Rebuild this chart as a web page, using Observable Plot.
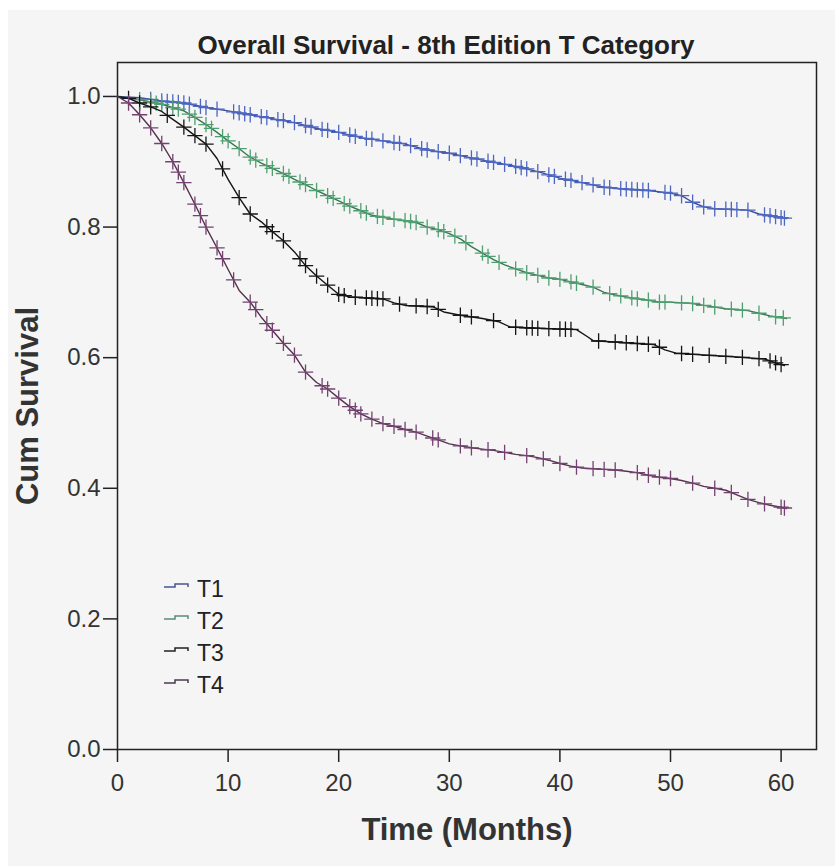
<!DOCTYPE html>
<html><head><meta charset="utf-8">
<script src="https://cdn.jsdelivr.net/npm/d3@7"></script>
<script src="https://cdn.jsdelivr.net/npm/@observablehq/plot@0.6"></script>
<style>
html,body{margin:0;padding:0;background:#fff;}
#bg{position:absolute;left:8px;top:10px;width:827px;height:856px;background:#f5f5f5;}
#chart{position:absolute;left:0;top:0;}
</style></head><body><div id="bg"></div><div id="chart"></div>
<script>
const chartTitle = "Overall Survival - 8th Edition T Category";
const xTitle = "Time (Months)";
const yTitle = "Cum Survival";
const categories = ["T1", "T2", "T3", "T4"];
const xTicks = [0, 10, 20, 30, 40, 50, 60];
const yTicks = [0, 0.2, 0.4, 0.6, 0.8, 1.0];
const lineColors = ["#3d4c92", "#3b7653", "#151515", "#57324f"];
const markColors = ["#4d66c2", "#4fa071", "#151515", "#744270"];
const legendColors = ["#4a5590", "#5a8a80", "#222222", "#4a3a50"];

// Survival curves (time in months, cumulative survival)
const t1Time = [0, 2, 4, 6, 8, 10, 12, 14, 16, 18, 20, 22, 24, 26, 28, 30, 32, 34, 36, 38, 40, 42, 44, 46, 48, 50, 51, 52, 53, 54, 57, 58, 59.5, 60.5];
const t1Surv = [1.0, 0.998, 0.993, 0.99, 0.983, 0.978, 0.972, 0.966, 0.96, 0.951, 0.945, 0.937, 0.932, 0.927, 0.918, 0.913, 0.906, 0.899, 0.893, 0.885, 0.875, 0.868, 0.861, 0.858, 0.856, 0.852, 0.848, 0.838, 0.831, 0.828, 0.826, 0.82, 0.816, 0.813];

const t2Time = [0, 2, 4, 6, 7, 8, 9, 10, 11, 12, 13, 14, 15, 16, 17, 18, 19, 20, 21, 22, 23, 24, 25, 26, 27, 28, 29, 30, 31, 32, 33, 34, 35, 36, 37, 38, 39, 40, 41, 42, 43, 44, 45, 46, 47, 48, 49, 50, 52, 53, 55, 57, 58, 59, 60.5];
const t2Surv = [1.0, 0.995, 0.988, 0.978, 0.968, 0.957, 0.945, 0.932, 0.92, 0.907, 0.898, 0.89, 0.882, 0.873, 0.865, 0.856, 0.848, 0.84, 0.832, 0.825, 0.818, 0.815, 0.812, 0.81, 0.807, 0.8, 0.796, 0.79, 0.782, 0.77, 0.76, 0.75, 0.742, 0.736, 0.73, 0.726, 0.722, 0.72, 0.716, 0.712, 0.708, 0.7, 0.696, 0.693, 0.69, 0.688, 0.685, 0.685, 0.683, 0.68, 0.675, 0.672, 0.668, 0.664, 0.66];

const t3Time = [0, 1, 2, 3, 4, 5, 6, 7, 8, 9, 10, 11, 12, 13, 14, 15, 16, 17, 18, 19, 20, 21, 22, 24, 25, 26, 28.5, 29.5, 31, 33, 34.5, 35.5, 38, 41.5, 42.5, 43, 45, 48.5, 49.5, 50.5, 53, 56, 58.5, 59.5, 60.3];
const t3Surv = [1.0, 0.997, 0.99, 0.984, 0.977, 0.965, 0.953, 0.94, 0.927, 0.905, 0.873, 0.845, 0.82, 0.808, 0.793, 0.779, 0.762, 0.741, 0.725, 0.711, 0.697, 0.693, 0.692, 0.69, 0.684, 0.68, 0.678, 0.67, 0.665, 0.66, 0.655, 0.647, 0.645, 0.643, 0.632, 0.626, 0.624, 0.62, 0.612, 0.607, 0.604, 0.601, 0.598, 0.592, 0.588];

const t4Time = [0, 1, 2, 3, 4, 5, 6, 7, 8, 9, 10, 11, 12, 13, 14, 15, 16, 17, 18, 19, 20, 21, 22, 23, 24, 25, 26, 27, 28, 29, 30, 31, 32, 33, 34, 35, 36, 37, 38, 39, 40, 41, 42, 43, 44, 45, 46, 47, 48, 49, 50, 51, 52, 53, 54, 55, 56, 57, 58, 59, 60, 60.5];
const t4Surv = [1.0, 0.99, 0.972, 0.952, 0.928, 0.9, 0.868, 0.835, 0.8, 0.768, 0.735, 0.703, 0.685, 0.662, 0.642, 0.622, 0.604, 0.578, 0.562, 0.552, 0.538, 0.525, 0.514, 0.506, 0.499, 0.495, 0.49, 0.486, 0.48, 0.474, 0.468, 0.465, 0.462, 0.46, 0.458, 0.455, 0.452, 0.45, 0.447, 0.443, 0.438, 0.434, 0.431, 0.43, 0.429, 0.428, 0.426, 0.424, 0.42, 0.417, 0.415, 0.412, 0.408, 0.403, 0.4, 0.397, 0.39, 0.383, 0.378, 0.374, 0.371, 0.369];

// Censoring times (+ marks)
const t1Censor = [3, 4, 4.5, 5, 5.5, 6, 6.5, 7.5, 8, 9, 10.5, 11, 11.5, 12, 13, 13.5, 14.5, 15, 16, 17, 17.5, 18.5, 19, 20, 21, 21.5, 22.5, 23, 24, 25, 25.5, 26.5, 27.5, 28, 29, 30, 31, 32, 32.5, 33.5, 34, 35, 36, 36.5, 37, 38, 39, 39.5, 40.5, 41, 42, 43, 44, 44.5, 45.5, 46, 46.5, 47, 47.5, 48, 49.5, 50, 51, 52, 53, 54, 55, 55.5, 56, 57, 58.5, 59, 59.5, 60, 60.3];
const t2Censor = [2, 3, 3.5, 4, 5, 5.5, 6.5, 7, 8, 8.5, 9.5, 10, 11, 12, 12.5, 13.5, 14, 15, 15.5, 16.5, 17, 18, 19, 19.5, 20.5, 21, 22, 22.5, 23.5, 24, 25, 26, 26.5, 27, 28, 29, 29.5, 30.5, 31.5, 33, 33.5, 34.5, 36, 37, 38, 39, 40, 41, 41.5, 43, 44.5, 45.5, 46.5, 47, 48, 49, 49.5, 51, 52, 53, 54, 55.5, 56.5, 58, 59.5, 60.2];
const t3Censor = [1, 2, 3, 4.5, 6, 7, 8, 9.5, 11, 12, 13.5, 14, 15, 16.5, 17, 18, 19, 20, 20.5, 21.5, 22.5, 23, 23.5, 24, 25.5, 27, 28, 29, 31, 32, 34, 36, 37, 37.5, 38, 39, 40, 40.5, 41, 43.5, 45, 46, 47, 48, 49, 51, 52, 53.5, 55, 56.5, 58, 59, 59.5, 60];
const t4Censor = [1, 2, 3, 4, 5, 5.5, 6, 7, 7.5, 8, 9, 9.5, 10.5, 12, 12.5, 13.5, 14, 15, 16, 17, 18.5, 19, 20, 21, 21.5, 22, 23, 24, 25, 26, 27, 28.5, 29, 31, 32, 33.5, 35, 37, 38.5, 40, 41.5, 43, 44, 45, 47, 48, 49, 50, 52, 54, 55.5, 57, 58.5, 60, 60.3];

const times = [t1Time, t2Time, t3Time, t4Time];
const survs = [t1Surv, t2Surv, t3Surv, t4Surv];
const censors = [t1Censor, t2Censor, t3Censor, t4Censor];

const curveRows = [];
categories.forEach((c, i) => times[i].forEach((t, j) => curveRows.push({cat: c, t, s: survs[i][j]})));

function survAt(i, t) {
  const ts = times[i], ss = survs[i];
  const k = d3.bisectRight(ts, t);
  if (k <= 0) return ss[0];
  if (k >= ts.length) return ss[ss.length - 1];
  const a = ts[k - 1], b = ts[k];
  return ss[k - 1] + (ss[k] - ss[k - 1]) * (t - a) / (b - a);
}

const font = "'Liberation Sans', Arial, Helvetica, sans-serif";

const marks = [
  Plot.axisX({ticks: xTicks, tickFormat: d => String(d), tickSize: 13, tickPadding: 11, stroke: "#222", strokeWidth: 1.5, fill: "#333", fontSize: 24, label: null}),
  Plot.axisY({ticks: yTicks, tickFormat: d3.format(".1f"), tickSize: 14, tickPadding: 3, stroke: "#222", strokeWidth: 1.5, fill: "#333", fontSize: 24, label: null}),
  Plot.frame({stroke: "#222", strokeWidth: 1.5})
];
categories.forEach((c, i) => {
  marks.push(Plot.line(curveRows.filter(d => d.cat === c), {x: "t", y: "s", stroke: lineColors[i], strokeWidth: 1.4}));
  marks.push(Plot.dot(censors[i].map(t => ({t, s: survAt(i, t)})), {x: "t", y: "s", symbol: "plus", r: 5, stroke: markColors[i], strokeWidth: 1.3}));
});
marks.push(
  Plot.text([chartTitle], {frameAnchor: "top", lineAnchor: "middle", textAnchor: "middle", dx: -21, dy: -17, fontWeight: "bold", fontSize: 26, fill: "#222"}),
  Plot.text([xTitle], {frameAnchor: "bottom", lineAnchor: "middle", textAnchor: "middle", dy: 81, fontWeight: "bold", fontSize: 31, fill: "#333"}),
  Plot.text([yTitle], {frameAnchor: "left", lineAnchor: "middle", textAnchor: "middle", dx: -89, rotate: -90, fontWeight: "bold", fontSize: 31, fill: "#333"})
);

const plot = Plot.plot({
  width: 835, height: 866,
  marginLeft: 117, marginRight: 19, marginTop: 62, marginBottom: 117,
  style: {background: "transparent", fontFamily: font, color: "#333", overflow: "visible"},
  x: {domain: [0, 63.2]},
  y: {domain: [0, 1.052]},
  marks
});

// Legend inside the plot area
const svg = d3.select(plot);
const lg = svg.append("g").attr("font-family", font).attr("font-size", 23).attr("text-anchor", "start");
categories.forEach((c, i) => {
  const base = 597 + i * 32;
  lg.append("path")
    .attr("d", `M164,${base - 10} h11 v-3 h13 v3`)
    .attr("fill", "none").attr("stroke", legendColors[i]).attr("stroke-width", 1.5);
  lg.append("text").attr("x", 197).attr("y", base).attr("fill", "#222").text(c);
});

document.getElementById("chart").append(plot);
</script>
</body></html>
